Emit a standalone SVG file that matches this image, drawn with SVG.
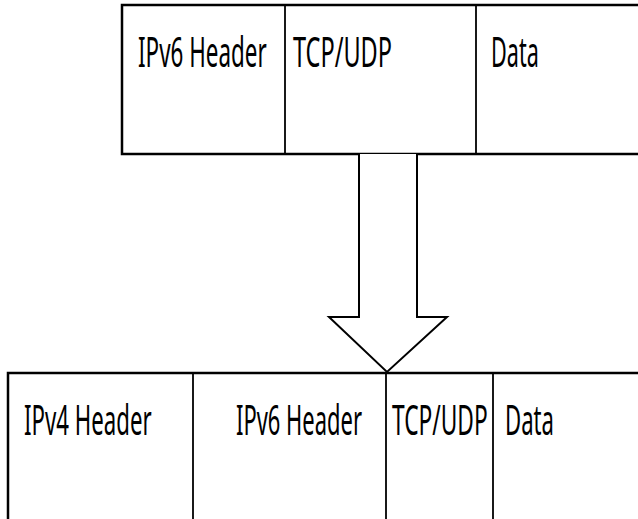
<svg xmlns="http://www.w3.org/2000/svg" width="638" height="519" viewBox="0 0 638 519">
<style>
.box{fill:#fff;stroke:#000;stroke-width:2.5}
.div{stroke:#000;stroke-width:1.8;fill:none}
.lbl{font-family:"Noto Sans","Open Sans",sans-serif;font-size:41px;fill:#000}
.arrow{fill:#fff;stroke:#000;stroke-width:2;stroke-linejoin:miter}
</style>
<rect width="638" height="519" fill="#fff"/>
<g id="top-packet">
<rect class="box" x="122" y="5" width="530" height="149"/>
<line class="div" x1="285" y1="5" x2="285" y2="154"/>
<line class="div" x1="476" y1="5" x2="476" y2="154"/>
<text class="lbl" transform="translate(138,67) scale(0.55,1)" textLength="234" lengthAdjust="spacingAndGlyphs">IPv6 Header</text>
<text class="lbl" transform="translate(293,67) scale(0.55,1)" textLength="180" lengthAdjust="spacingAndGlyphs">TCP/UDP</text>
<text class="lbl" transform="translate(491,67) scale(0.55,1)" textLength="87" lengthAdjust="spacingAndGlyphs">Data</text>
</g>
<g id="connectors">
<path class="arrow" d="M359,154 L359,317 L329,317 L387,372 L447,317 L417,317 L417,154"/>
</g>
<g id="bottom-packet">
<rect class="box" x="8" y="373" width="650" height="160"/>
<line class="div" x1="193" y1="373" x2="193" y2="519"/>
<line class="div" x1="386" y1="373" x2="386" y2="519"/>
<line class="div" x1="493" y1="373" x2="493" y2="519"/>
<text class="lbl" transform="translate(24,435) scale(0.55,1)" textLength="232" lengthAdjust="spacingAndGlyphs">IPv4 Header</text>
<text class="lbl" transform="translate(236,435) scale(0.55,1)" textLength="229" lengthAdjust="spacingAndGlyphs">IPv6 Header</text>
<text class="lbl" transform="translate(392,435) scale(0.55,1)" textLength="174" lengthAdjust="spacingAndGlyphs">TCP/UDP</text>
<text class="lbl" transform="translate(505,435) scale(0.55,1)" textLength="89" lengthAdjust="spacingAndGlyphs">Data</text>
</g>
</svg>
